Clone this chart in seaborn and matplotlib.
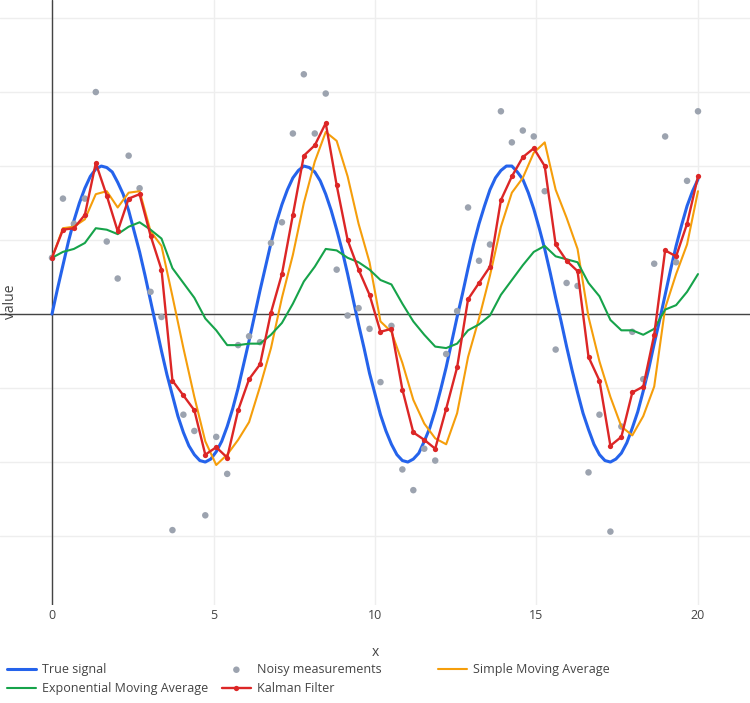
import numpy as np
import matplotlib
matplotlib.use('Agg')
import matplotlib.pyplot as plt
import seaborn as sns

# measurement grid (60 evenly spaced samples from 0 to 20)
x = np.linspace(0, 20, 60)
# the true signal is drawn on a grid twice as fine so it looks smooth
x_true = np.linspace(0, 20, 119)

true_signal = [0.00, 0.17, 0.33, 0.49, 0.63, 0.75, 0.85, 0.93, 0.98, 1.00,
               0.99, 0.96, 0.89, 0.81, 0.70, 0.56, 0.42, 0.26, 0.09, -0.08,
               -0.25, -0.41, -0.55, -0.69, -0.80, -0.89, -0.95, -0.99, -1.00, -0.98,
               -0.93, -0.86, -0.76, -0.64, -0.50, -0.34, -0.18, -0.01, 0.16, 0.32,
               0.48, 0.62, 0.74, 0.84, 0.92, 0.97, 1.00, 0.99, 0.96, 0.90,
               0.81, 0.70, 0.57, 0.43, 0.27, 0.10, -0.07, -0.23, -0.40, -0.54,
               -0.68, -0.79, -0.88, -0.95, -0.99, -1.00, -0.98, -0.94, -0.86, -0.77,
               -0.65, -0.51, -0.36, -0.19, -0.02, 0.14, 0.31, 0.47, 0.61, 0.73,
               0.84, 0.92, 0.97, 1.00, 1.00, 0.96, 0.91, 0.82, 0.71, 0.58,
               0.44, 0.28, 0.11, -0.05, -0.22, -0.38, -0.53, -0.67, -0.78, -0.88,
               -0.95, -0.99, -1.00, -0.98, -0.94, -0.87, -0.77, -0.66, -0.52, -0.37,
               -0.20, -0.04, 0.13, 0.30, 0.46, 0.60, 0.73, 0.83, 0.91]

noisy = [0.38, 0.78, 0.61, 0.78, 1.50, 0.49, 0.24, 1.07, 0.85, 0.15,
         -0.02, -1.46, -0.68, -0.79, -1.36, -0.83, -1.08, -0.21, -0.15, -0.19,
         0.48, 0.62, 1.22, 1.62, 1.22, 1.49, 0.30, -0.01, 0.04, -0.10,
         -0.46, -0.08, -1.05, -1.19, -0.91, -0.99, -0.27, 0.02, 0.72, 0.36,
         0.47, 1.37, 1.16, 1.24, 1.20, 0.83, -0.24, 0.21, 0.19, -1.07,
         -0.68, -1.47, -0.76, -0.12, -0.44, 0.34, 1.20, 0.35, 0.90, 1.37]

sma = [0.38, 0.58, 0.59, 0.64, 0.81, 0.83, 0.72, 0.82, 0.83, 0.56,
       0.46, 0.12, -0.23, -0.56, -0.86, -1.02, -0.95, -0.85, -0.73, -0.49,
       -0.23, 0.11, 0.40, 0.75, 1.03, 1.23, 1.17, 0.93, 0.61, 0.35,
       -0.05, -0.12, -0.33, -0.58, -0.74, -0.84, -0.88, -0.67, -0.29, -0.03,
       0.26, 0.59, 0.82, 0.92, 1.09, 1.16, 0.84, 0.65, 0.44, -0.02,
       -0.32, -0.56, -0.76, -0.82, -0.69, -0.49, 0.04, 0.27, 0.47, 0.83]

ema = [0.38, 0.42, 0.44, 0.48, 0.58, 0.57, 0.54, 0.59, 0.62, 0.57,
       0.51, 0.31, 0.21, 0.11, -0.03, -0.11, -0.21, -0.21, -0.20, -0.20,
       -0.14, -0.06, 0.07, 0.22, 0.32, 0.44, 0.43, 0.38, 0.35, 0.30,
       0.23, 0.20, 0.07, -0.05, -0.14, -0.22, -0.23, -0.20, -0.11, -0.07,
       -0.01, 0.13, 0.23, 0.33, 0.42, 0.46, 0.39, 0.37, 0.35, 0.21,
       0.12, -0.04, -0.11, -0.11, -0.14, -0.10, 0.03, 0.06, 0.15, 0.27]

kalman = [0.38, 0.57, 0.58, 0.67, 1.02, 0.80, 0.56, 0.78, 0.81, 0.53,
          0.30, -0.45, -0.55, -0.65, -0.95, -0.90, -0.97, -0.65, -0.44, -0.34,
          0.01, 0.27, 0.67, 1.07, 1.14, 1.29, 0.87, 0.50, 0.30, 0.13,
          -0.12, -0.10, -0.51, -0.80, -0.85, -0.91, -0.64, -0.36, 0.10, 0.21,
          0.32, 0.77, 0.93, 1.06, 1.12, 1.00, 0.47, 0.36, 0.29, -0.29,
          -0.45, -0.89, -0.83, -0.53, -0.49, -0.14, 0.43, 0.39, 0.61, 0.93]

x_ticks = [0, 5, 10, 15, 20]

sns.set_style('white')
plt.rcParams['font.family'] = ['Open Sans', 'DejaVu Sans']

fig = plt.figure(figsize=(7.5, 7.03), dpi=100)
ax = fig.add_axes([0, 1 - 605 / 703, 1, 605 / 703])

# grid + zero lines
ax.set_xticks(x_ticks)
ax.set_yticks(np.arange(-1.5, 2.01, 0.5))
ax.set_yticklabels([])
ax.grid(True, color='#eeeeee', linewidth=1)
ax.set_axisbelow(True)
ax.axhline(0, color='#444444', linewidth=1, zorder=1)
ax.axvline(0, color='#444444', linewidth=1, zorder=1)
for s in ax.spines.values():
    s.set_visible(False)

sns.lineplot(x=x_true, y=true_signal, color='#2563eb', linewidth=2.2, label='True signal', ax=ax, zorder=2)
sns.scatterplot(x=x, y=noisy, color='#9ca3af', s=22, edgecolor='none', label='Noisy measurements', ax=ax, zorder=3)
sns.lineplot(x=x, y=sma, color='#f59e0b', linewidth=1.5, label='Simple Moving Average', ax=ax, zorder=4)
sns.lineplot(x=x, y=ema, color='#16a34a', linewidth=1.5, label='Exponential Moving Average', ax=ax, zorder=5)
sns.lineplot(x=x, y=kalman, color='#dc2626', linewidth=1.7, marker='o', markersize=3.8,
             markeredgewidth=0, label='Kalman Filter', ax=ax, zorder=6)

ax.set_xlim(-1.61, 21.61)
ax.set_ylim(-1.966, 2.122)
ax.set_xlabel('')
ax.set_ylabel('')
ax.tick_params(axis='x', length=0, pad=3, labelsize=9, labelcolor='#444444')
ax.tick_params(axis='y', length=0)

fig.text(10 / 750, 1 - 302 / 703, 'value', rotation=90, ha='center', va='center',
         color='#444444', fontsize=10)
fig.text(375 / 750, 1 - 653 / 703, 'x', ha='center', va='center', color='#444444', fontsize=10)

# legend: three columns of equal width like the original
handles, labels = ax.get_legend_handles_labels()
ax.get_legend().remove()
cols = [[0, 3], [1, 4], [2]]
col_x = [7, 222, 438]
for idx, cx in zip(cols, col_x):
    fig.legend([handles[i] for i in idx], [labels[i] for i in idx],
               loc='upper left', bbox_to_anchor=(cx / 750, 1 - 663 / 703),
               frameon=False, fontsize=9, handlelength=2.3, handletextpad=0.5,
               borderpad=0, borderaxespad=0, labelspacing=0.5, labelcolor='#444444')

fig.savefig('out.png', dpi=100)
